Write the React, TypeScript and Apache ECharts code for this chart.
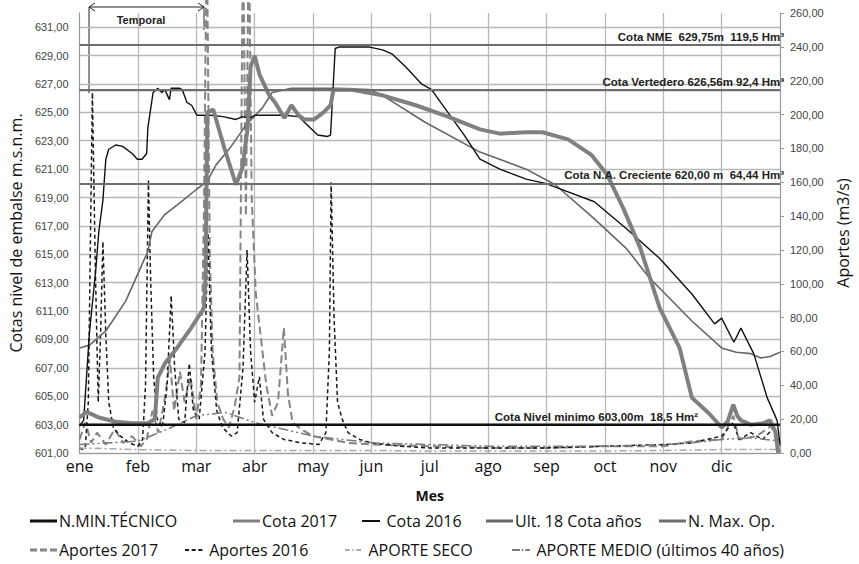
import React, { useEffect, useRef } from 'react';
import * as echarts from 'echarts';

const months = ['ene', 'feb', 'mar', 'abr', 'may', 'jun', 'jul', 'ago', 'sep', 'oct', 'nov', 'dic'];

// x = month index (0 = 1 ene, 12 = 31 dic), y = level (m.s.n.m.) or inflow (m3/s)
const nMinTecnico: [number, number][] = [[0, 603], [12, 603]];
const nMaxOp: [number, number][] = [[0, 626.56], [12, 626.56]];

const cota2017: [number, number][] = [
  [0, 603.5], [0.12, 603.9], [0.33, 603.5], [0.62, 603.2], [0.9, 603.1], [1.17, 603.1], [1.29, 603.4],
  [1.34, 606.3], [1.46, 607.3], [1.67, 608.4], [1.91, 609.8], [2.13, 611.2], [2.16, 613.5], [2.19, 625.0],
  [2.29, 625.2], [2.48, 622.5], [2.68, 619.9], [2.79, 621.1], [2.88, 623.9], [2.93, 628.2], [3.0, 629.0],
  [3.08, 627.7], [3.25, 626.2], [3.35, 625.7], [3.51, 624.6], [3.63, 625.5], [3.75, 624.8], [3.85, 624.5],
  [4.02, 624.5], [4.18, 625.0], [4.3, 625.5], [4.35, 626.6], [4.64, 626.6], [5.19, 626.2], [5.76, 625.5],
  [6.31, 624.7], [6.86, 623.8], [7.2, 623.5], [7.65, 623.6], [7.93, 623.6], [8.37, 623.1], [8.77, 622.0],
  [9.04, 620.6], [9.32, 618.2], [9.61, 615.4], [9.94, 611.2], [10.28, 608.4], [10.49, 604.9], [10.78, 603.8],
  [11.0, 602.8], [11.1, 603.2], [11.2, 604.4], [11.27, 603.6], [11.33, 603.3], [11.5, 603.0], [11.72, 603.1],
  [11.83, 603.3], [11.92, 602.5], [11.97, 601.0],
];

const cota2016: [number, number][] = [
  [0, 602.9], [0.07, 603.3], [0.17, 609.5], [0.28, 614.0], [0.33, 616.6], [0.4, 618.8], [0.45, 621.7],
  [0.5, 622.4], [0.62, 622.7], [0.74, 622.6], [0.9, 622.1], [0.99, 621.7], [1.07, 621.7], [1.15, 622.1],
  [1.17, 623.9], [1.26, 626.4], [1.34, 626.7], [1.41, 626.4], [1.46, 626.6], [1.54, 625.9], [1.57, 626.7],
  [1.71, 626.7], [1.76, 626.6], [1.84, 625.7], [1.92, 625.5], [2.01, 624.8], [2.24, 624.8], [2.46, 624.7],
  [2.68, 624.5], [2.79, 624.7], [2.91, 624.6], [3.01, 624.8], [3.51, 624.8], [3.75, 624.7], [4.08, 623.4],
  [4.25, 623.3], [4.3, 623.4], [4.38, 629.5], [4.44, 629.6], [4.97, 629.6], [5.19, 629.4], [5.36, 629.1],
  [5.59, 628.2], [5.86, 627.0], [6.03, 626.6], [6.31, 625.0], [6.59, 623.4], [6.86, 621.7], [7.2, 621.0],
  [7.65, 620.3], [7.98, 620.0], [8.37, 619.4], [8.82, 618.7], [9.37, 616.8], [9.94, 614.7], [10.49, 612.2],
  [10.88, 610.1], [11.0, 610.5], [11.21, 608.8], [11.33, 609.8], [11.55, 608.0], [11.78, 604.9],
  [11.95, 603.3], [12, 601.6],
];

const ult18: [number, number][] = [
  [0, 608.4], [0.17, 608.6], [0.45, 609.6], [0.79, 611.7], [1.17, 615.2], [1.24, 616.6], [1.46, 617.8],
  [1.74, 618.7], [2.01, 619.6], [2.18, 620.1], [2.34, 621.3], [2.58, 622.5], [2.85, 624.1], [3.13, 625.3],
  [3.3, 626.4], [3.63, 626.7], [4.35, 626.7], [4.97, 626.6], [5.19, 626.2], [5.92, 624.3], [6.86, 622.2],
  [7.65, 621.0], [8.15, 619.9], [8.82, 617.5], [9.37, 615.4], [9.77, 613.3], [9.99, 612.4], [10.49, 610.3],
  [11.0, 608.4], [11.25, 608.1], [11.5, 608.0], [11.67, 607.7], [11.83, 607.8], [12, 608.1],
];

const aportes2017: [number, number][] = [
  [0, 8], [0.1, 18], [0.2, 6], [0.3, 12], [0.45, 5], [0.6, 14], [0.75, 6], [0.9, 10], [1.05, 4], [1.15, 8],
  [1.25, 25], [1.35, 12], [1.45, 30], [1.55, 55], [1.62, 25], [1.72, 48], [1.8, 30], [1.9, 45], [2.0, 20],
  [2.08, 40], [2.13, 140], [2.18, 310], [2.23, 120], [2.28, 60], [2.36, 30], [2.46, 20], [2.56, 15],
  [2.66, 28], [2.74, 45], [2.8, 310], [2.85, 140], [2.9, 310], [2.95, 150], [3.02, 94], [3.1, 70], [3.2, 40],
  [3.3, 22], [3.4, 30], [3.5, 74], [3.57, 35], [3.65, 18], [3.8, 14], [4.0, 10], [4.3, 8], [4.6, 6], [5.0, 5],
  [6.0, 4], [7.0, 3], [8.0, 3], [9.0, 4], [10.0, 4], [10.5, 7], [11.0, 8], [11.2, 22], [11.3, 8], [11.6, 10],
  [11.85, 16], [12, 4],
];

const aportes2016: [number, number][] = [
  [0, 3], [0.05, 2], [0.1, 4], [0.15, 30], [0.22, 213], [0.27, 110], [0.32, 30], [0.36, 70], [0.4, 125],
  [0.45, 70], [0.5, 30], [0.58, 15], [0.7, 10], [0.85, 6], [1.0, 4], [1.08, 8], [1.13, 40], [1.18, 161],
  [1.22, 100], [1.27, 45], [1.33, 20], [1.42, 15], [1.5, 40], [1.57, 93], [1.63, 50], [1.7, 20], [1.8, 18],
  [1.88, 53], [1.95, 25], [2.05, 20], [2.15, 60], [2.2, 130], [2.26, 60], [2.35, 25], [2.45, 15], [2.6, 10],
  [2.7, 12], [2.8, 50], [2.87, 120], [2.93, 60], [3.0, 30], [3.08, 45], [3.15, 20], [3.3, 12], [3.5, 8],
  [3.8, 6], [4.1, 5], [4.22, 12], [4.28, 60], [4.31, 160], [4.36, 80], [4.42, 30], [4.5, 20], [4.6, 12],
  [4.8, 8], [5.0, 6], [5.5, 4], [6, 3], [7, 3], [8, 3], [9, 4], [10, 5], [10.5, 6], [11.0, 10], [11.2, 18],
  [11.3, 8], [11.5, 12], [11.7, 8], [11.9, 15], [12, 5],
];

const aporteSeco: [number, number][] = [
  [0, 3], [1, 2], [2, 1.5], [3, 1.5], [4, 1.5], [5, 1.5], [6, 1.2], [7, 1.2], [8, 1.2], [9, 1.2], [10, 1.5],
  [11, 2], [12, 2],
];

const aporteMedio: [number, number][] = [
  [0, 5], [0.5, 6], [1, 7], [1.5, 14], [2, 22], [2.5, 24], [3, 18], [3.5, 14], [4, 10], [4.5, 8], [5, 6],
  [6, 5], [7, 4], [8, 4], [9, 4], [10, 5], [10.5, 6], [11, 8], [11.5, 9], [12, 7],
];

const refLevels = [629.75, 626.56, 620.0];
const refLabels = [
  'Cota NME  629,75m  119,5 Hm³',
  'Cota Vertedero 626,56m 92,4 Hm³',
  'Cota N.A. Creciente 620,00 m  64,44 Hm³',
];
const minLevel = 603;
const minLabel = 'Cota Nivel minimo 603,00m  18,5 Hm²';

const FONT = '"Open Sans", "Noto Sans", sans-serif';
const TICKFONT = '"Liberation Sans", Arial, sans-serif';

const fmt = (v: number) => v.toFixed(2).replace('.', ',');

// legend glyphs (line samples)
const ICON_SOLID = 'path://M0,0H27V3H0Z';
const ICON_LONGDASH = 'path://M0,0H7V3H0Z M10,0H17V3H10Z M20,0H27V3H20Z';
const ICON_SHORTDASH = 'path://M0,0H6V3H0Z M10,0H16V3H10Z M20,0H26V3H20Z';
const ICON_DASHDOT = 'path://M0,0H7V3H0Z M11,0H13V3H11Z M17,0H24V3H17Z';
const ICON_DASHDOTDOT = 'path://M0,0H12V3H0Z M15,0H17V3H15Z M20,0H27V3H20Z';

export default function App() {
  const ref = useRef<HTMLDivElement>(null);
  useEffect(() => {
    if (!ref.current) return;
    const chart = echarts.init(ref.current, undefined, { renderer: 'svg' });
    const annLabel = {
      position: 'insideEndTop',
      distance: 2,
      fontFamily: TICKFONT,
      fontWeight: 'bold',
      fontSize: 11.5,
      color: '#222',
      padding: [0, -6, 0, 0],
    };
    const legendBase = {
      padding: 0,
      itemWidth: 27,
      itemGap: 0,
      textStyle: { fontFamily: FONT, fontSize: 16, color: '#111', padding: [0, 0, 0, -3] },
    };
    const legends = [
      { name: 'N.MIN.TÉCNICO', left: 30, top: 513, icon: ICON_SOLID, h: 3 },
      { name: 'Cota 2017', left: 233, top: 513, icon: ICON_SOLID, h: 3 },
      { name: 'Cota 2016', left: 362, top: 513, icon: ICON_SOLID, h: 2 },
      { name: 'Ult. 18 Cota años', left: 486, top: 513, icon: ICON_SOLID, h: 3 },
      { name: 'N. Max. Op.', left: 659, top: 513, icon: ICON_SOLID, h: 3 },
      { name: 'Aportes 2017', left: 30, top: 542, icon: ICON_LONGDASH, h: 3 },
      { name: 'Aportes 2016', left: 185, top: 542, icon: ICON_SHORTDASH, h: 2 },
      { name: 'APORTE SECO', left: 345, top: 542, icon: ICON_DASHDOT, h: 2 },
      { name: 'APORTE MEDIO (últimos 40 años)', left: 512, top: 542, icon: ICON_DASHDOTDOT, h: 2 },
    ].map((l) => ({
      ...legendBase,
      data: [{ name: l.name, icon: l.icon }],
      itemHeight: l.h,
      left: l.left,
      top: l.top,
    }));

    const lineCommon = { type: 'line', showSymbol: false, symbol: 'none', smooth: false };

    chart.setOption({
      animation: false,
      backgroundColor: '#fff',
      grid: { left: 73, right: 69, top: 13, bottom: 111, containLabel: false },
      legend: legends,
      xAxis: {
        type: 'value',
        min: 0,
        max: 12,
        interval: 1,
        name: 'Mes',
        nameLocation: 'middle',
        nameGap: 35,
        nameTextStyle: { fontFamily: FONT, fontSize: 14, fontWeight: 'bold', color: '#111' },
        axisLine: { show: true, lineStyle: { color: '#9a9a9a', width: 1 } },
        axisTick: { show: false },
        axisLabel: {
          formatter: (v: number) => months[Math.round(v)] ?? '',
          fontFamily: FONT,
          fontSize: 16,
          color: '#111',
          margin: 5,
          showMaxLabel: false,
        },
        splitLine: { show: true, lineStyle: { color: '#b8b8b8', width: 1.3 } },
      },
      yAxis: [
        {
          type: 'value',
          min: 601,
          max: 632,
          interval: 2,
          name: 'Cotas nivel de embalse m.s.n.m.',
          nameLocation: 'middle',
          nameGap: 55,
          nameRotate: 90,
          nameTextStyle: { fontFamily: FONT, fontSize: 16, color: '#111' },
          axisLine: { show: true, lineStyle: { color: '#9a9a9a' } },
          axisTick: { show: false },
          axisLabel: {
            formatter: (v: number) => fmt(v),
            fontFamily: TICKFONT,
            fontSize: 11,
            color: '#444',
            margin: 11,
            showMaxLabel: false,
          },
          splitLine: { show: true, showMaxLine: false, lineStyle: { color: '#b8b8b8', width: 1.3 } },
        },
        {
          type: 'value',
          min: 0,
          max: 260,
          interval: 20,
          position: 'right',
          name: 'Aportes (m3/s)',
          nameLocation: 'middle',
          nameGap: 55,
          nameRotate: 90,
          nameTextStyle: { fontFamily: FONT, fontSize: 16, color: '#111' },
          axisLine: { show: true, lineStyle: { color: '#9a9a9a' } },
          axisTick: { show: true, length: 4, lineStyle: { color: '#9a9a9a' } },
          axisLabel: {
            formatter: (v: number) => fmt(v),
            fontFamily: TICKFONT,
            fontSize: 11,
            color: '#444',
            margin: 10,
          },
          splitLine: { show: false },
        },
      ],
      graphic: [
        { type: 'line', shape: { x1: 89, y1: 7, x2: 204, y2: 7 }, style: { stroke: '#222', lineWidth: 1 } },
        { type: 'polyline', shape: { points: [[95, 3], [89, 7], [95, 11]] }, style: { stroke: '#222', fill: null, lineWidth: 1 } },
        { type: 'polyline', shape: { points: [[198, 3], [204, 7], [198, 11]] }, style: { stroke: '#222', fill: null, lineWidth: 1 } },
        { type: 'line', shape: { x1: 89, y1: 7, x2: 89, y2: 93 }, style: { stroke: '#222', lineWidth: 1 } },
        { type: 'line', shape: { x1: 204, y1: 7, x2: 204, y2: 30 }, style: { stroke: '#222', lineWidth: 1 } },
        {
          type: 'text',
          x: 141,
          y: 20,
          style: {
            text: 'Temporal',
            fontFamily: TICKFONT,
            fontWeight: 'bold',
            fontSize: 11,
            fill: '#222',
            align: 'center',
            verticalAlign: 'middle',
          },
        },
      ],
      series: [
        {
          ...lineCommon,
          name: 'Aportes 2017',
          yAxisIndex: 1,
          clip: false,
          data: aportes2017,
          lineStyle: { color: '#858585', width: 2, type: [8, 4] },
          itemStyle: { color: '#858585' },
        },
        {
          ...lineCommon,
          name: 'Aportes 2016',
          yAxisIndex: 1,
          clip: false,
          data: aportes2016,
          lineStyle: { color: '#1a1a1a', width: 1.5, type: [4, 3] },
          itemStyle: { color: '#1a1a1a' },
        },
        {
          ...lineCommon,
          name: 'APORTE SECO',
          yAxisIndex: 1,
          data: aporteSeco,
          lineStyle: { color: '#a8a8a8', width: 1.5, type: [7, 3, 2, 3] },
          itemStyle: { color: '#a8a8a8' },
        },
        {
          ...lineCommon,
          name: 'APORTE MEDIO (últimos 40 años)',
          yAxisIndex: 1,
          data: aporteMedio,
          lineStyle: { color: '#7a7a7a', width: 1.5, type: [10, 3, 2, 3, 2, 3] },
          itemStyle: { color: '#7a7a7a' },
        },
        {
          ...lineCommon,
          name: 'N. Max. Op.',
          yAxisIndex: 0,
          data: nMaxOp,
          lineStyle: { color: '#6e6e6e', width: 2 },
          itemStyle: { color: '#6e6e6e' },
          markLine: {
            silent: true,
            symbol: 'none',
            lineStyle: { color: '#6e6e6e', width: 2, type: 'solid' },
            label: annLabel,
            data: refLevels.map((v, i) => ({ yAxis: v, label: { ...annLabel, formatter: refLabels[i] } })),
          },
        },
        {
          ...lineCommon,
          name: 'Ult. 18 Cota años',
          yAxisIndex: 0,
          data: ult18,
          lineStyle: { color: '#666666', width: 1.6 },
          itemStyle: { color: '#666666' },
        },
        {
          ...lineCommon,
          name: 'Cota 2016',
          yAxisIndex: 0,
          data: cota2016,
          lineStyle: { color: '#111', width: 1.4 },
          itemStyle: { color: '#111' },
        },
        {
          ...lineCommon,
          name: 'Cota 2017',
          yAxisIndex: 0,
          data: cota2017,
          lineStyle: { color: '#808080', width: 4 },
          itemStyle: { color: '#808080' },
        },
        {
          ...lineCommon,
          name: 'N.MIN.TÉCNICO',
          yAxisIndex: 0,
          data: nMinTecnico,
          lineStyle: { color: '#111', width: 2.2 },
          itemStyle: { color: '#111' },
          markLine: {
            silent: true,
            symbol: 'none',
            lineStyle: { color: '#111', width: 2.2, type: 'solid' },
            data: [
              {
                yAxis: minLevel,
                label: { ...annLabel, formatter: minLabel, padding: [0, 80, 0, 0] },
              },
            ],
          },
        },
      ],
    });
    return () => chart.dispose();
  }, []);
  return (
    <div
      ref={ref}
      style={{ position: 'absolute', left: 0, top: 0, width: 859, height: 564, background: '#fff' }}
    />
  );
}
